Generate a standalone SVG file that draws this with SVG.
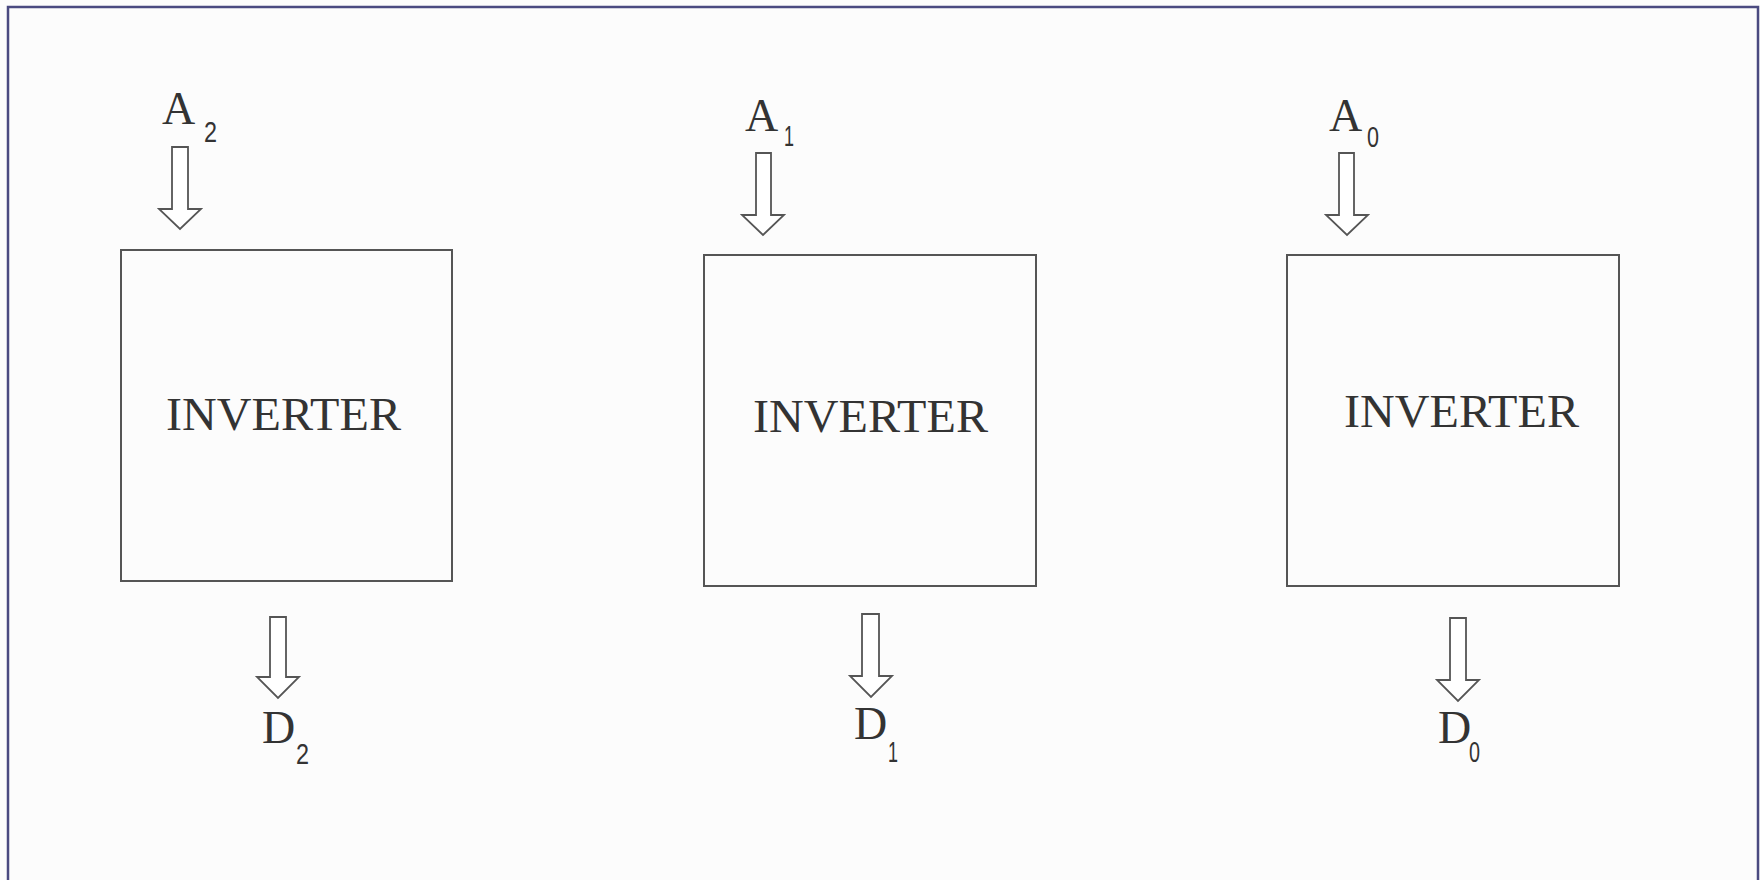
<svg xmlns="http://www.w3.org/2000/svg" width="1760" height="880" viewBox="0 0 1760 880">
<style>
.box{fill:none;stroke:#555;stroke-width:2}
.arr{fill:#fff;stroke:#555;stroke-width:1.8;stroke-linejoin:miter}
.lbl{font-family:"Liberation Serif","Times New Roman",serif;font-size:46px;fill:#333}
.inv{font-family:"Liberation Serif","Times New Roman",serif;font-size:47px;fill:#333}
.sub{font-family:"Liberation Sans",Arial,sans-serif;font-size:29px;fill:#333}
</style>
<rect width="1760" height="880" fill="#fcfcfc"/>
<path d="M8,882 V7 H1758 V882" fill="none" stroke="#4a4a80" stroke-width="2.5"/>
<g id="inv2">
<rect class="box" x="121" y="250" width="331" height="331"/>
<text class="inv" x="166" y="430" textLength="235" lengthAdjust="spacingAndGlyphs">INVERTER</text>
</g>
<g id="inv1">
<rect class="box" x="704" y="255" width="332" height="331"/>
<text class="inv" x="753" y="432" textLength="235" lengthAdjust="spacingAndGlyphs">INVERTER</text>
</g>
<g id="inv0">
<rect class="box" x="1287" y="255" width="332" height="331"/>
<text class="inv" x="1344" y="427" textLength="235" lengthAdjust="spacingAndGlyphs">INVERTER</text>
</g>
<g id="labels">
<text class="lbl" x="162" y="124">A</text><text class="sub" x="204" y="142" textLength="13" lengthAdjust="spacingAndGlyphs">2</text>
<text class="lbl" x="745" y="131">A</text><text class="sub" x="784" y="146" textLength="10" lengthAdjust="spacingAndGlyphs">1</text>
<text class="lbl" x="1329" y="131">A</text><text class="sub" x="1367" y="147" textLength="12" lengthAdjust="spacingAndGlyphs">0</text>
<text class="lbl" x="262" y="743">D</text><text class="sub" x="296" y="764" textLength="13" lengthAdjust="spacingAndGlyphs">2</text>
<text class="lbl" x="854" y="739">D</text><text class="sub" x="888" y="762" textLength="10" lengthAdjust="spacingAndGlyphs">1</text>
<text class="lbl" x="1438" y="743">D</text><text class="sub" x="1469" y="762" textLength="11" lengthAdjust="spacingAndGlyphs">0</text>
</g>
<g id="connectors">
<path class="arr" d="M172,147 H188 V209 H201 L180,229 L159,209 H172 Z"/>
<path class="arr" d="M756,153 H771 V215 H784 L763,235 L742,215 H756 Z"/>
<path class="arr" d="M1339,153 H1354 V215 H1368 L1347,235 L1326,215 H1339 Z"/>
<path class="arr" d="M270,617 H286 V677 H299 L278,698 L257,677 H270 Z"/>
<path class="arr" d="M862,614 H879 V676 H892 L871,697 L850,676 H862 Z"/>
<path class="arr" d="M1450,618 H1466 V680 H1479 L1458,701 L1437,680 H1450 Z"/>
</g>
</svg>
